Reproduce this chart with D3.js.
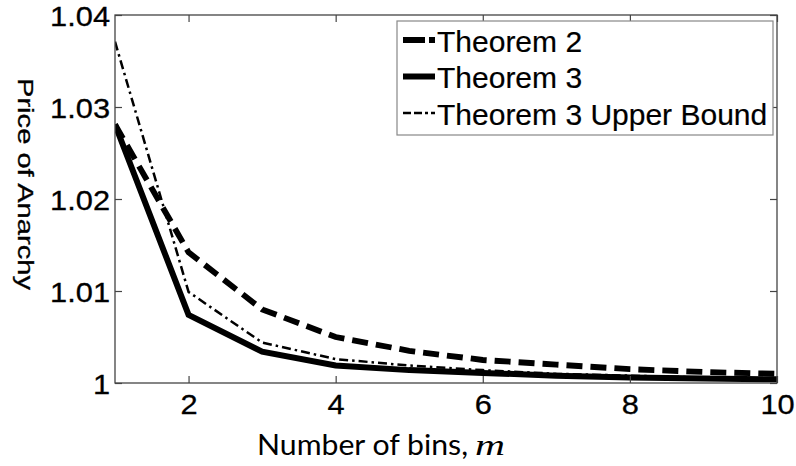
<!DOCTYPE html>
<html><head><meta charset="utf-8">
<script src="https://cdn.jsdelivr.net/npm/d3@7"></script>
<style>body{margin:0;background:#fff}svg{display:block}</style>
</head><body>
<svg id="chart" width="796" height="466"></svg>
<script>
const bins = [1,2,3,4,5,6,7,8,9,10];
const theorem2 = [1.0281,1.0142,1.0080,1.0050,1.0035,1.0025,1.0020,1.0015,1.0012,1.0010];
const theorem3 = [1.0281,1.0074,1.0034,1.0019,1.0014,1.0011,1.0008,1.0006,1.0005,1.0004];
const theorem3Upper = [1.0371,1.0099,1.0044,1.0026,1.0019,1.0014,1.0010,1.0008,1.0006,1.0005];
const xTicks = [2,4,6,8,10];
const yTicks = [1,1.01,1.02,1.03,1.04];
const yTickLabels = ["1","1.01","1.02","1.03","1.04"];
const seriesNames = ["Theorem 2","Theorem 3","Theorem 3 Upper Bound"];

const svg = d3.select("#chart");
const L=115,R=777,T=15,B=383;
const x = d3.scaleLinear().domain([1,10]).range([L,R]);
const y = d3.scaleLinear().domain([1,1.04]).range([B,T]);

const series = [
  {name:seriesNames[0], vals:theorem2, w:5.8, dash:"16,8"},
  {name:seriesNames[1], vals:theorem3, w:6, dash:null},
  {name:seriesNames[2], vals:theorem3Upper, w:2.5, dash:"9,4,2.5,4"}
];

svg.append("clipPath").attr("id","clip").append("rect")
  .attr("x",L).attr("y",T).attr("width",R-L).attr("height",B-T);

const line = d3.line().x(d=>x(d[0])).y(d=>y(d[1]));
const g = svg.append("g").attr("clip-path","url(#clip)");
series.forEach(s=>{
  g.append("path").datum(bins.map((b,i)=>[b,s.vals[i]]))
    .attr("d",line).attr("fill","none").attr("stroke","#000")
    .attr("stroke-width",s.w).attr("stroke-linejoin","miter")
    .attr("stroke-dasharray",s.dash);
});

// axes box
const axC="#444";
svg.append("rect").attr("x",L).attr("y",T).attr("width",R-L).attr("height",B-T)
  .attr("fill","none").attr("stroke",axC).attr("stroke-width",1.3);

const xb = svg.append("g").attr("transform",`translate(0,${B})`)
  .call(d3.axisBottom(x).tickValues(xTicks).tickSizeInner(-7).tickSizeOuter(0).tickPadding(14).tickFormat(d3.format("d")));
const xt = svg.append("g").attr("transform",`translate(0,${T})`)
  .call(d3.axisTop(x).tickValues(xTicks).tickSizeInner(-7).tickSizeOuter(0).tickFormat(""));
const yl = svg.append("g").attr("transform",`translate(${L},0)`)
  .call(d3.axisLeft(y).tickValues(yTicks).tickSizeInner(-7).tickSizeOuter(0).tickPadding(5).tickFormat((d,i)=>yTickLabels[i]));
const yr = svg.append("g").attr("transform",`translate(${R},0)`)
  .call(d3.axisRight(y).tickValues(yTicks).tickSizeInner(-7).tickSizeOuter(0).tickFormat(""));
[xb,xt,yl,yr].forEach(a=>{
  a.select(".domain").remove();
  a.selectAll(".tick line").attr("stroke",axC).attr("stroke-width",1.2);
  a.selectAll("text").attr("fill","#000").style("font-family","'Liberation Sans', Arial, sans-serif").style("font-size","28px")
    .style("stroke","#000").style("stroke-width","0.3px");
});
xb.selectAll("text").attr("dy","0.71em").attr("y",11);
yl.selectAll("text").attr("dy","0.36em");
[xb,yl].forEach(a=>a.selectAll("text").each(function(){
  const w=this.getComputedTextLength();
  d3.select(this).attr("textLength",w*1.1).attr("lengthAdjust","spacingAndGlyphs");
}));

// y label
svg.append("text").attr("transform","translate(14,78) rotate(90)")
  .attr("x",0).attr("y",0).attr("dy","-0.2em")
  .attr("textLength",212).attr("lengthAdjust","spacingAndGlyphs")
  .style("font-family","'Liberation Sans', Arial, sans-serif").style("font-size","22px")
  .style("stroke","#000").style("stroke-width","0.3px")
  .text("Price of Anarchy");

// x label
svg.append("text").attr("x",257).attr("y",455)
  .attr("textLength",211).attr("lengthAdjust","spacingAndGlyphs")
  .style("font-family","Lato, 'Open Sans', sans-serif").style("font-size","28px")
  .text("Number of bins,");
svg.append("text").attr("x",475).attr("y",455)
  .attr("textLength",30).attr("lengthAdjust","spacingAndGlyphs")
  .style("font-family","'Liberation Serif', 'DejaVu Serif', serif").style("font-style","italic").style("font-size","29px")
  .text("m");

// legend
const lg = svg.append("g");
lg.append("rect").attr("x",397).attr("y",21).attr("width",376).attr("height",114)
  .attr("fill","#fff").attr("stroke","#888").attr("stroke-width",1.2);
const legDash = ["22,4,6,10","none","8,3,8,3,3,3"];
series.forEach((s,i)=>{
  const ly = 40 + i*36.5;
  lg.append("line").attr("x1",403).attr("x2",435).attr("y1",ly).attr("y2",ly)
    .attr("stroke","#000").attr("stroke-width",s.w)
    .attr("stroke-dasharray",legDash[i]==="none"?null:legDash[i]);
  lg.append("text").attr("x",437).attr("y",ly+11.5)
    .style("font-family","'Liberation Sans', Arial, sans-serif").style("font-size","30px")
    .style("stroke","#000").style("stroke-width","0.2px")
    .text(s.name);
});
</script>
</body></html>
